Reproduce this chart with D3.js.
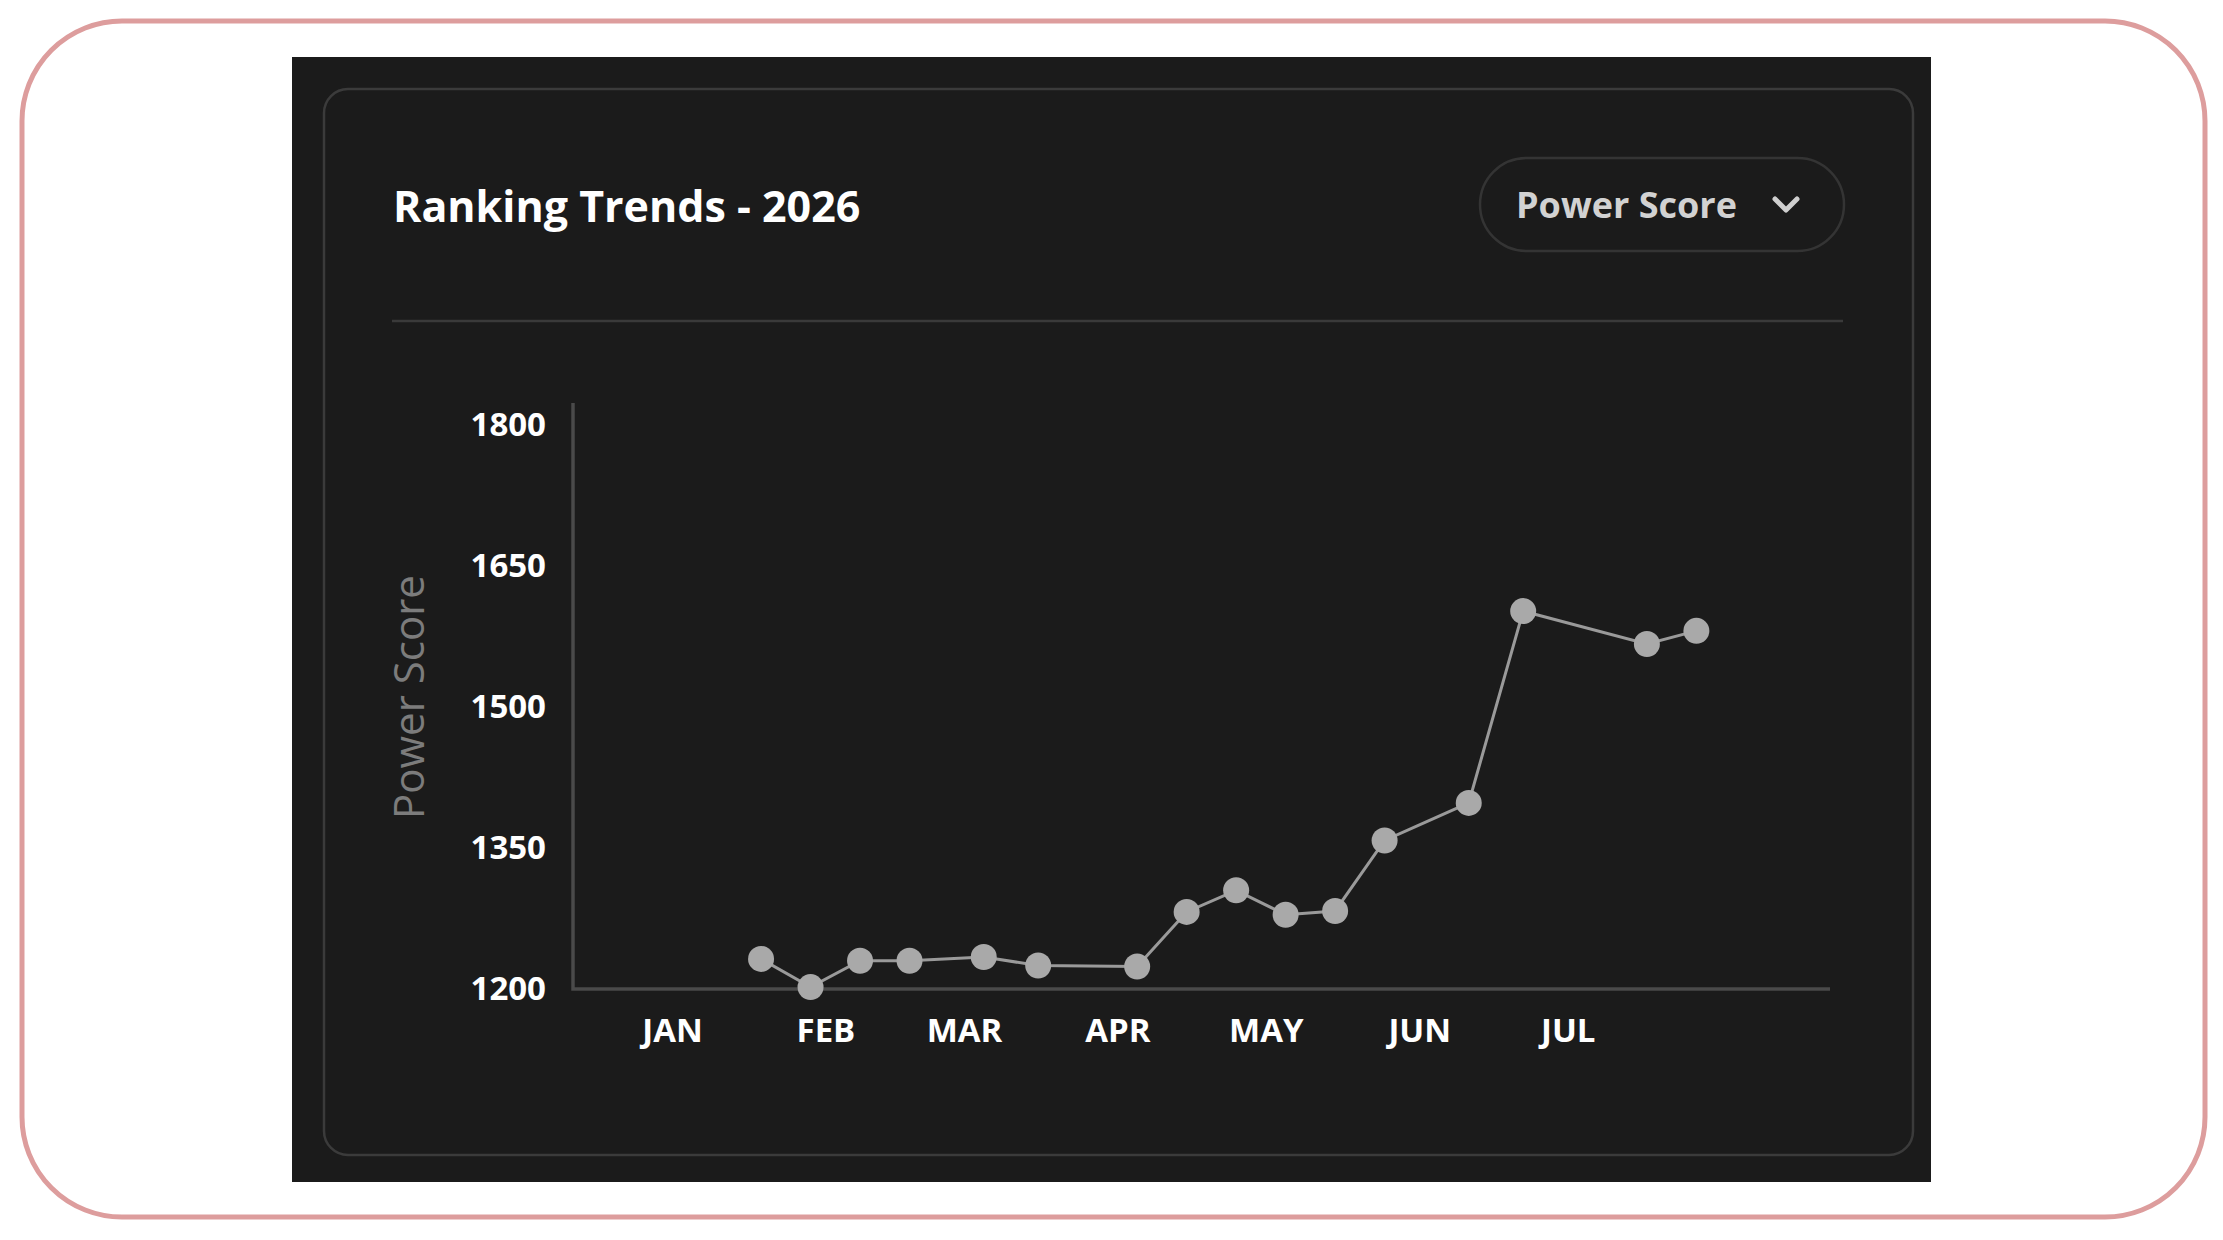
<!DOCTYPE html>
<html>
<head>
	<title>Ranking Trends</title>
	<script src="https://d3js.org/d3.v7.min.js"></script>
	<style type="text/css">
		body {
		  margin: 0;
		  background: #ffffff;
		}
		svg text {
		  font-family: "Open Sans", "Noto Sans", sans-serif;
		}
	</style>
</head>
<body>

<div id="chart"></div>

<script type="text/javascript">

	// data
	var dates = ["2026-01-19", "2026-01-29", "2026-02-08", "2026-02-18", "2026-03-05", "2026-03-16",
	             "2026-04-05", "2026-04-15", "2026-04-25", "2026-05-05", "2026-05-15", "2026-05-25",
	             "2026-06-11", "2026-06-22", "2026-07-17", "2026-07-27"];
	var scores = [1232, 1202, 1230, 1230, 1234, 1225, 1224, 1282, 1305, 1279, 1283, 1358, 1398, 1602, 1567, 1581];
	var yTicks = [1200, 1350, 1500, 1650, 1800];
	var monthLabels = ["JAN", "FEB", "MAR", "APR", "MAY", "JUN", "JUL"];

	var width = 2223,
	    height = 1240;

	var parse = d3.timeParse("%Y-%m-%d");
	var data = dates.map(function(d, i) { return {date: parse(d), value: scores[i]}; });

	var svg = d3.select("#chart")
	    .append("svg")
	    .attr("width", width)
	    .attr("height", height);

	// outer pink frame
	svg.append("rect")
	    .attr("x", 22).attr("y", 21)
	    .attr("width", 2183).attr("height", 1196)
	    .attr("rx", 100)
	    .attr("fill", "#ffffff")
	    .attr("stroke", "#dd9d9d")
	    .attr("stroke-width", 5);

	// dark panel + card
	svg.append("rect")
	    .attr("x", 292).attr("y", 57)
	    .attr("width", 1639).attr("height", 1125)
	    .attr("fill", "#1b1b1b");

	svg.append("rect")
	    .attr("x", 324).attr("y", 89)
	    .attr("width", 1589).attr("height", 1066)
	    .attr("rx", 24)
	    .attr("fill", "#1b1b1b")
	    .attr("stroke", "#3b3b3b")
	    .attr("stroke-width", 2.5);

	svg.append("text")
	    .attr("x", 393).attr("y", 222)
	    .attr("fill", "#ffffff")
	    .attr("font-size", 43)
	    .attr("font-weight", 700)
	    .text("Ranking Trends - 2026");

	// dropdown pill
	svg.append("rect")
	    .attr("x", 1480).attr("y", 158)
	    .attr("width", 364).attr("height", 93)
	    .attr("rx", 46.5)
	    .attr("fill", "none")
	    .attr("stroke", "#343434")
	    .attr("stroke-width", 2.5);

	svg.append("text")
	    .attr("x", 1516).attr("y", 218)
	    .attr("fill", "#d2d2d2")
	    .attr("font-size", 36)
	    .attr("font-weight", 700)
	    .text("Power Score");

	svg.append("path")
	    .attr("d", "M1775,199 L1786,210 L1797,199")
	    .attr("fill", "none")
	    .attr("stroke", "#cfcfcf")
	    .attr("stroke-width", 5)
	    .attr("stroke-linecap", "round")
	    .attr("stroke-linejoin", "round");

	svg.append("line")
	    .attr("x1", 392).attr("x2", 1843)
	    .attr("y1", 321).attr("y2", 321)
	    .attr("stroke", "#3a3a3a")
	    .attr("stroke-width", 2.5);

	// scales
	var plotLeft = 573, plotRight = 1830, plotBottom = 989, plotTop = 403;

	var xScale = d3.scaleTime()
	    .domain([new Date(2025, 11, 12), new Date(2026, 7, 23)])
	    .range([plotLeft, plotRight]);

	var yScale = d3.scaleLinear()
	    .domain([1200, 1800])
	    .range([plotBottom, 425]);

	var months = d3.timeMonth.range(new Date(2026, 0, 1), new Date(2026, 7, 1));

	var xAxis = d3.axisBottom(xScale)
	    .tickValues(months)
	    .tickSize(0)
	    .tickPadding(30)
	    .tickFormat(function(d, i) { return monthLabels[i]; });

	var yAxis = d3.axisLeft(yScale)
	    .tickValues(yTicks)
	    .tickSize(0)
	    .tickPadding(27)
	    .tickFormat(d3.format("d"));

	var gX = svg.append("g")
	    .attr("transform", "translate(0," + plotBottom + ")")
	    .call(xAxis);

	var gY = svg.append("g")
	    .attr("transform", "translate(" + plotLeft + ",0)")
	    .call(yAxis);

	gX.select(".domain").remove();
	gY.select(".domain").remove();

	gX.selectAll("text")
	    .attr("fill", "#ffffff")
	    .attr("font-size", 33)
	    .attr("font-weight", 700)
	    .attr("font-family", "'Open Sans', sans-serif");

	gY.selectAll("text")
	    .attr("fill", "#ffffff")
	    .attr("font-size", 33)
	    .attr("font-weight", 700)
	    .attr("font-family", "'Open Sans', sans-serif");

	// axis lines
	svg.append("path")
	    .attr("d", "M" + plotLeft + "," + plotTop + " V" + plotBottom + " H" + plotRight)
	    .attr("fill", "none")
	    .attr("stroke", "#4a4a4a")
	    .attr("stroke-width", 3.5);

	svg.append("text")
	    .attr("transform", "translate(424,697) rotate(-90)")
	    .attr("text-anchor", "middle")
	    .attr("fill", "#7c7c7c")
	    .attr("font-size", 42)
	    .attr("font-weight", 400)
	    .text("Power Score");

	var line = d3.line()
	    .x(d => xScale(d.date))
	    .y(d => yScale(d.value));

	svg.append("path")
	    .datum(data)
	    .attr("d", line)
	    .attr("fill", "none")
	    .attr("stroke", "#9a9a9a")
	    .attr("stroke-width", 3);

	svg.selectAll(".dot")
	    .data(data)
	    .enter()
	    .append("circle")
	    .attr("class", "dot")
	    .attr("cx", d => xScale(d.date))
	    .attr("cy", d => yScale(d.value))
	    .attr("r", 13)
	    .attr("fill", "#a9a9a9");

</script>

</body>
</html>
